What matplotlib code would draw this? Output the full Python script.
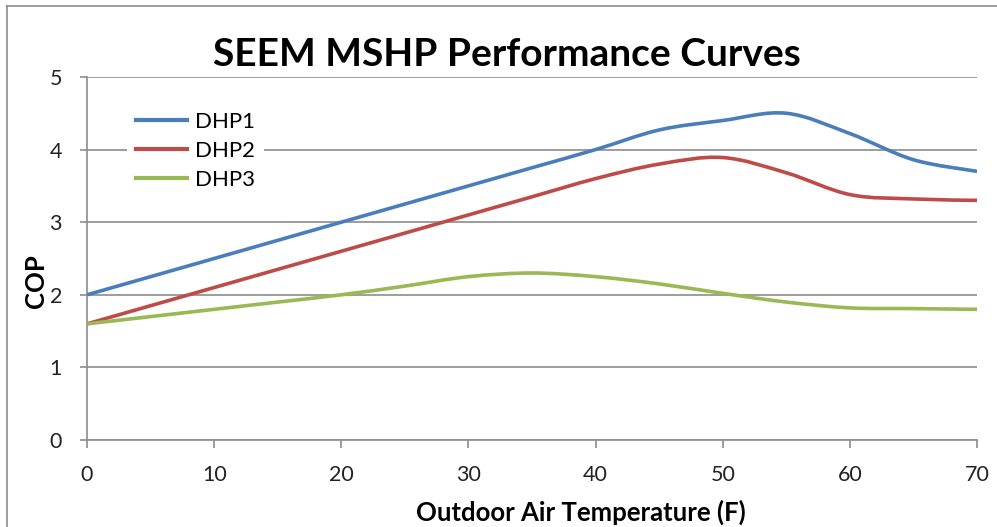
import numpy as np
import matplotlib
matplotlib.use("Agg")
import matplotlib.pyplot as plt
from matplotlib.path import Path
from matplotlib.patches import PathPatch
from matplotlib.lines import Line2D

#===== DATA =====
temp_f = [0, 5, 10, 15, 20, 25, 30, 35, 40, 45, 50, 55, 60, 65, 70]
dhp1 = [2.0, 2.25, 2.5, 2.75, 3.0, 3.25, 3.5, 3.75, 4.0, 4.27, 4.4, 4.5, 4.22, 3.86, 3.7]
dhp2 = [1.6, 1.85, 2.1, 2.35, 2.6, 2.85, 3.1, 3.35, 3.6, 3.8, 3.89, 3.68, 3.38, 3.32, 3.3]
dhp3 = [1.6, 1.7, 1.8, 1.9, 2.0, 2.12, 2.25, 2.3, 2.25, 2.15, 2.02, 1.9, 1.82, 1.81, 1.8]
series_names = ["DHP1", "DHP2", "DHP3"]
colors = ["#4a7ebb", "#be4b48", "#98b954"]
x_ticks = [0, 10, 20, 30, 40, 50, 60, 70]
y_ticks = [0, 1, 2, 3, 4, 5]

FONT = "Lato"
GRID = "#8c8c8c"


#===== SMOOTH LINE (Excel-like) =====
def smooth_path(x, y):
    pts = np.column_stack([x, y]).astype(float)
    verts = [pts[0]]
    codes = [Path.MOVETO]
    n = len(pts)
    for i in range(n - 1):
        p0 = pts[max(i - 1, 0)]
        p1 = pts[i]
        p2 = pts[i + 1]
        p3 = pts[min(i + 2, n - 1)]
        c1 = p1 + (p2 - p0) / 6.0
        c2 = p2 - (p3 - p1) / 6.0
        verts += [c1, c2, p2]
        codes += [Path.CURVE4] * 3
    return Path(verts, codes)


fig = plt.figure(figsize=(9.97, 5.27), dpi=100)
ax = fig.add_axes([0.0873, 0.165, 0.8927, 0.689])

for ys, c in zip([dhp1, dhp2, dhp3], colors):
    ax.add_patch(PathPatch(smooth_path(temp_f, ys), facecolor="none",
                           edgecolor=c, lw=2.6, capstyle="butt", zorder=3))

ax.set_xlim(0, 70)
ax.set_ylim(0, 5)
ax.set_xticks(x_ticks)
ax.set_yticks(y_ticks)
ax.grid(axis="y", color=GRID, lw=1.2)
ax.set_axisbelow(True)
for s in ["top", "right"]:
    ax.spines[s].set_visible(False)
for s in ["left", "bottom"]:
    ax.spines[s].set_color(GRID)
    ax.spines[s].set_linewidth(1.2)
ax.tick_params(axis="both", colors=GRID, width=1.2, labelsize=15.5,
               labelcolor="#222222")
ax.tick_params(axis="x", length=6, pad=12)
ax.tick_params(axis="y", length=5, pad=13)
for lbl in ax.get_xticklabels() + ax.get_yticklabels():
    lbl.set_family(FONT)

ax.set_xlabel("Outdoor Air Temperature (F)", fontsize=18.5, fontweight="bold",
              family=FONT)
ax.xaxis.set_label_coords(0.555, -0.198)
ax.set_ylabel("COP", fontsize=18.5, fontweight="bold", family=FONT)
ax.yaxis.set_label_coords(-0.057, 0.438)
ax.xaxis.label.set_va("center")
ax.yaxis.label.set_va("center")

fig.text(0.508, 0.896, "SEEM MSHP Performance Curves", ha="center", va="center",
         fontsize=28, fontweight="bold", family=FONT)

handles = [Line2D([], [], color=c, lw=3) for c in colors]
leg = ax.legend(handles, series_names, loc="upper left",
                bbox_to_anchor=(0.045, 0.928), borderaxespad=0, frameon=True,
                fancybox=False, edgecolor="none", facecolor="white", framealpha=1,
                handlelength=2.3, handletextpad=0.35, labelspacing=0.4,
                prop={"family": FONT, "size": 16})

# outer chart border (top and left visible in the crop)
fig.add_artist(Line2D([0.007, 0.007], [0, 0.989], color=GRID, lw=1.2,
                      transform=fig.transFigure))
fig.add_artist(Line2D([0.007, 1.0], [0.989, 0.989], color=GRID, lw=1.2,
                      transform=fig.transFigure))

plt.savefig("out.png", dpi=100)
